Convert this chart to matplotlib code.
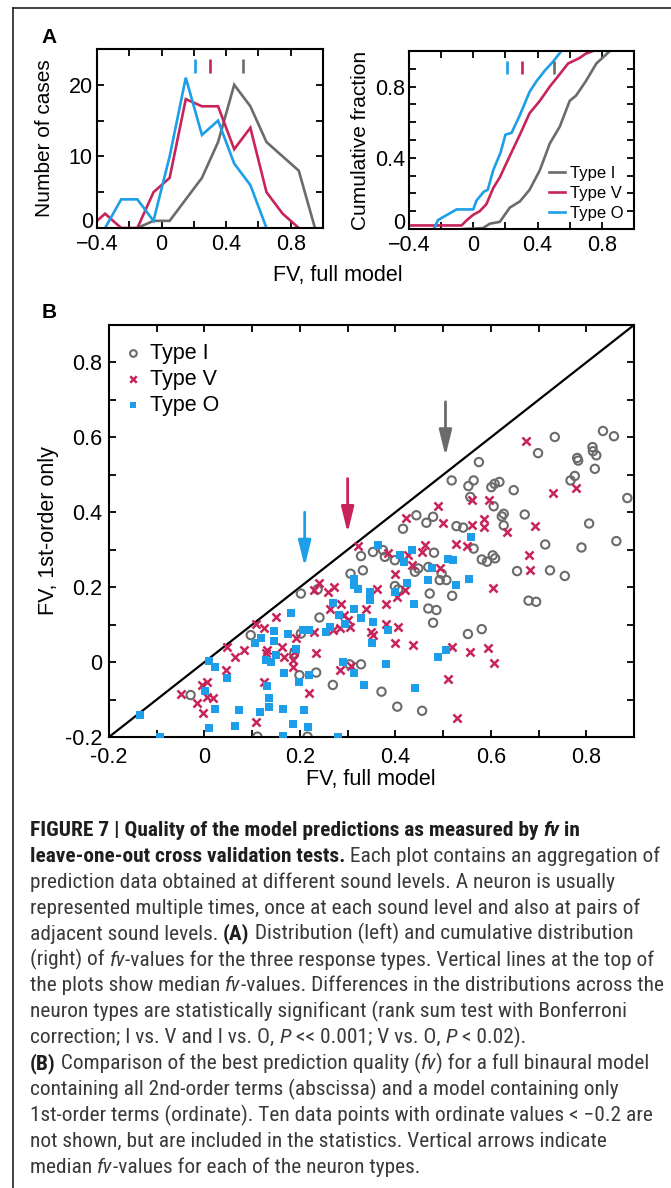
import matplotlib
matplotlib.use('Agg')
import matplotlib.pyplot as plt
from matplotlib import font_manager as fm
from matplotlib.lines import Line2D
import numpy as np

# ---------------------------------------------------------------- data
type_names = ['Type I', 'Type V', 'Type O']
type_colors = ['#6B6B6B', '#C8245A', '#1C9FE8']
medians = [0.505, 0.30, 0.21]          # median fv per type (I, V, O)

# Panel A, left: histogram of fv (bin centres, counts)
hist_I_x = [-0.15, -0.05, 0.05, 0.15, 0.25, 0.35, 0.45, 0.55, 0.65, 0.75, 0.85, 0.95]
hist_I_n = [0, 1, 1, 4, 7, 12, 20, 17, 12, 10, 8, 0]
hist_V_x = [-0.45, -0.35, -0.25, -0.15, -0.05, 0.05, 0.15, 0.25, 0.35, 0.45, 0.55, 0.65, 0.75, 0.85]
hist_V_n = [0, 2, 0, 0, 5, 7, 18, 17, 17, 11, 14, 5, 2, 0]
hist_O_x = [-0.35, -0.25, -0.15, -0.05, 0.05, 0.15, 0.25, 0.35, 0.45, 0.55, 0.65]
hist_O_n = [0, 4, 4, 1, 10, 21, 13, 15, 9, 6, 0]

# Panel A, right: cumulative fraction curves
cdf_I_x = [-0.06, 0.06, 0.103, 0.165, 0.227, 0.29, 0.35, 0.414, 0.476, 0.538, 0.60, 0.64, 0.70, 0.766, 0.85]
cdf_I_y = [0.0, 0.005, 0.03, 0.04, 0.12, 0.155, 0.22, 0.33, 0.48, 0.575, 0.72, 0.75, 0.83, 0.93, 1.0]
cdf_V_x = [-0.4, -0.073, -0.04, 0.0, 0.04, 0.082, 0.124, 0.165, 0.227, 0.29, 0.35, 0.414, 0.476, 0.538, 0.59, 0.66, 0.70, 0.745]
cdf_V_y = [0.02, 0.02, 0.05, 0.08, 0.10, 0.14, 0.23, 0.29, 0.41, 0.53, 0.65, 0.72, 0.80, 0.87, 0.93, 0.96, 0.985, 1.0]
cdf_O_x = [-0.245, -0.22, -0.104, 0.0, 0.02, 0.066, 0.09, 0.124, 0.17, 0.20, 0.238, 0.29, 0.35, 0.393, 0.445, 0.496, 0.548]
cdf_O_y = [0.0, 0.05, 0.11, 0.11, 0.16, 0.21, 0.22, 0.33, 0.43, 0.53, 0.54, 0.64, 0.77, 0.83, 0.89, 0.94, 1.0]

# Panel B: fv full model (x) vs fv 1st-order only (y)
I_x = [-0.029, 0.097, 0.111, 0.216, 0.202, 0.237, 0.241, 0.306, 0.328, 0.332, 0.353, 0.374, 0.378,
       0.399, 0.416, 0.444, 0.465, 0.479, 0.481, 0.441, 0.448, 0.469, 0.497, 0.493, 0.507, 0.472,
       0.469, 0.486, 0.479, 0.399, 0.406, 0.202, 0.188, 0.304, 0.328, 0.199, 0.234, 0.269, 0.371,
       0.404, 0.456, 0.734, 0.835, 0.858, 0.699, 0.813, 0.814, 0.821, 0.818, 0.781, 0.783, 0.575,
       0.776, 0.767, 0.886, 0.518, 0.553, 0.564, 0.601, 0.608, 0.618, 0.648, 0.606, 0.557, 0.623,
       0.627, 0.627, 0.671, 0.714, 0.806, 0.790, 0.863, 0.655, 0.724, 0.755, 0.679, 0.695, 0.528,
       0.542, 0.564, 0.581, 0.592, 0.604, 0.609, 0.519, 0.552, 0.581]
I_y = [-0.088, 0.072, -0.199, -0.199, 0.183, 0.194, 0.119, 0.236, 0.283, 0.245, 0.294, 0.299, 0.281,
       0.272, 0.356, 0.392, 0.372, 0.388, 0.292, 0.241, 0.250, 0.254, 0.236, 0.219, 0.219, 0.183,
       0.143, 0.139, 0.105, 0.203, 0.194, 0.076, 0.023, -0.006, -0.006, -0.035, -0.028, -0.061, -0.079,
       -0.119, -0.130, 0.601, 0.617, 0.603, 0.558, 0.574, 0.563, 0.552, 0.516, 0.545, 0.538, 0.534,
       0.497, 0.485, 0.438, 0.485, 0.470, 0.485, 0.467, 0.476, 0.481, 0.459, 0.416, 0.441, 0.389,
       0.396, 0.365, 0.394, 0.314, 0.370, 0.306, 0.323, 0.243, 0.245, 0.230, 0.164, 0.161, 0.363,
       0.359, 0.303, 0.274, 0.268, 0.285, 0.277, 0.177, 0.075, 0.088]

V_x = [-0.050, -0.015, -0.003, -0.005, 0.006, 0.006, 0.018, 0.048, 0.046, 0.065, 0.083,
       0.107, 0.125, 0.150, 0.163, 0.167, 0.185, 0.185, 0.188, 0.192, 0.132, 0.128, 0.125, 0.220,
       0.234, 0.241, 0.230, 0.258, 0.272, 0.262, 0.286, 0.293, 0.300, 0.304, 0.283, 0.269, 0.283,
       0.321, 0.349, 0.353, 0.381, 0.381, 0.362, 0.385, 0.399, 0.406, 0.399, 0.420, 0.404, 0.427,
       0.434, 0.437, 0.455, 0.462, 0.490, 0.500, 0.423, 0.493, 0.511, 0.107, 0.307, 0.230, 0.339,
       0.674, 0.730, 0.779, 0.560, 0.597, 0.585, 0.585, 0.560, 0.634, 0.693, 0.526, 0.550, 0.679,
       0.683, 0.604, 0.518, 0.557, 0.595, 0.607, 0.530]
V_y = [-0.084, -0.109, -0.137, -0.061, -0.053, -0.093, -0.097, 0.041, -0.021, 0.014, 0.032,
       0.103, 0.090, 0.121, 0.041, 0.014, 0.005, -0.012, 0.028, 0.063, 0.032, 0.023, -0.052, -0.082,
       0.023, 0.212, 0.192, 0.188, 0.201, 0.143, 0.156, 0.125, 0.112, 0.094, 0.090, 0.085, -0.021,
       0.310, 0.081, 0.072, 0.103, 0.156, 0.194, 0.290, 0.236, 0.094, 0.050, 0.192, 0.174, 0.285,
       0.259, 0.045, 0.294, 0.312, 0.416, 0.372, 0.386, 0.250, -0.044, -0.159, -0.010, 0.081, 0.143,
       0.589, 0.452, 0.465, 0.432, 0.432, 0.383, 0.361, 0.365, 0.347, 0.363, 0.316, 0.309, 0.287,
       0.245, 0.198, 0.041, 0.027, 0.038, -0.002, -0.148]

O_x = [-0.135, -0.093, 0.009, 0.023, 0.002, 0.048, 0.023, 0.009, 0.063, 0.072, 0.164, 0.279,
       0.363, 0.409, 0.418, 0.434, 0.511, 0.476, 0.469, 0.425, 0.400, 0.346, 0.346, 0.314, 0.314,
       0.321, 0.269, 0.281, 0.313, 0.328, 0.295, 0.353, 0.439, 0.385, 0.351, 0.264, 0.255, 0.220,
       0.206, 0.181, 0.146, 0.175, 0.105, 0.118, 0.146, 0.192, 0.149, 0.128, 0.139, 0.290, 0.313,
       0.381, 0.167, 0.199, 0.220, 0.130, 0.335, 0.441, 0.490, 0.507, 0.135, 0.135, 0.116, 0.165,
       0.209, 0.185, 0.216, 0.559, 0.521, 0.554, 0.528]
O_y = [-0.140, -0.200, 0.003, -0.012, -0.077, -0.042, -0.126, -0.177, -0.171, -0.128, -0.197, -0.200,
       0.312, 0.287, 0.268, 0.299, 0.274, 0.250, 0.219, 0.210, 0.188, 0.188, 0.165, 0.223, 0.205,
       0.194, 0.159, 0.127, 0.143, 0.119, 0.103, 0.108, 0.155, 0.085, 0.050, 0.094, 0.081, 0.085,
       0.087, 0.130, 0.083, 0.076, 0.050, 0.063, 0.057, 0.036, 0.019, 0.005, 0.001, 0.001, -0.028,
       -0.006, -0.030, -0.052, -0.035, -0.063, -0.061, -0.070, 0.014, 0.032, -0.097, -0.119, -0.132, -0.126,
       -0.128, -0.165, -0.174, 0.334, 0.272, 0.223, 0.205]

# Caption: lines of (text, style) segments; style r=regular, b=bold, i=italic, bi=bold italic
caption = [
    [("FIGURE 7 | Quality of the model predictions as measured by ", 'b'), ("fv", 'bi'), (" in", 'b')],
    [("leave-one-out cross validation tests.", 'b'), (" Each plot contains an aggregation of", 'r')],
    [("prediction data obtained at different sound levels. A neuron is usually", 'r')],
    [("represented multiple times, once at each sound level and also at pairs of", 'r')],
    [("adjacent sound levels. ", 'r'), ("(A)", 'b'), (" Distribution (left) and cumulative distribution", 'r')],
    [("(right) of ", 'r'), ("fv", 'i'), ("-values for the three response types. Vertical lines at the top of", 'r')],
    [("the plots show median ", 'r'), ("fv", 'i'), ("-values. Differences in the distributions across the", 'r')],
    [("neuron types are statistically significant (rank sum test with Bonferroni", 'r')],
    [("correction; I vs. V and I vs. O, ", 'r'), ("P", 'i'), (" << 0.001; V vs. O, ", 'r'), ("P", 'i'), (" < 0.02).", 'r')],
    [("(B)", 'b'), (" Comparison of the best prediction quality (", 'r'), ("fv", 'i'), (") for a full binaural model", 'r')],
    [("containing all 2nd-order terms (abscissa) and a model containing only", 'r')],
    [("1st-order terms (ordinate). Ten data points with ordinate values < \u22120.2 are", 'r')],
    [("not shown, but are included in the statistics. Vertical arrows indicate", 'r')],
    [("median ", 'r'), ("fv", 'i'), ("-values for each of the neuron types.", 'r')],
]

# ---------------------------------------------------------------- setup
W, H = 671, 1188
FONT = 'Liberation Sans'
plt.rcParams['font.family'] = [FONT, 'DejaVu Sans']
plt.rcParams['axes.linewidth'] = 1.5
TS = 15.5   # tick / axis label size

fig = plt.figure(figsize=(W / 100, H / 100), dpi=100)


def ax_px(x0, y0, x1, y1):
    return fig.add_axes([x0 / W, 1 - y1 / H, (x1 - x0) / W, (y1 - y0) / H])


def style(ax, size, xpad, ypad):
    ax.tick_params(direction='in', top=True, right=True, length=5, width=1.3,
                   labelsize=size, colors='black')
    ax.tick_params(axis='x', pad=xpad)
    ax.tick_params(axis='y', pad=ypad)


# frame lines of the page
fig.add_artist(Line2D([13 / W, 1], [1 - 8 / H, 1 - 8 / H], transform=fig.transFigure, color='#222222', lw=1.2))
fig.add_artist(Line2D([13 / W, 13 / W], [1 - 8 / H, 0], transform=fig.transFigure, color='#222222', lw=1.2))

# ---------------------------------------------------------------- Panel A left
axA1 = ax_px(97, 49, 323, 228)
for xs, ns, c in zip([hist_I_x, hist_V_x, hist_O_x], [hist_I_n, hist_V_n, hist_O_n], type_colors):
    axA1.plot(xs, ns, color=c, lw=1.9, solid_joinstyle='miter')
axA1.vlines(medians, 21.7, 23.6, colors=type_colors, lw=1.9)
axA1.set_xlim(-0.4, 1.0)
axA1.set_ylim(0, 25)
axA1.set_xticks(np.arange(-0.4, 1.01, 0.2))
axA1.set_xticklabels(['\u22120.4', '', '0', '', '0.4', '', '0.8', ''])
axA1.set_yticks([0, 5, 10, 15, 20, 25])
axA1.set_yticklabels(['0', '', '10', '', '20', ''])
style(axA1, TS, 4.5, 3.0)
axA1.get_yticklabels()[0].set_va('baseline')

# ---------------------------------------------------------------- Panel A right
axA2 = ax_px(409, 51, 634, 229)
handles = []
for xs, ys, c, n in zip([cdf_I_x, cdf_V_x, cdf_O_x], [cdf_I_y, cdf_V_y, cdf_O_y], type_colors, type_names):
    h, = axA2.plot(xs, ys, color=c, lw=1.9, label=n)
    handles.append(h)
axA2.vlines(medians, 0.873, 0.944, colors=type_colors, lw=1.9)
axA2.set_xlim(-0.4, 1.0)
axA2.set_ylim(0, 1.0)
axA2.set_xticks(np.arange(-0.4, 1.01, 0.2))
axA2.set_xticklabels(['\u22120.4', '', '0', '', '0.4', '', '0.8', ''])
axA2.set_yticks(np.arange(0, 1.01, 0.1))
axA2.set_yticklabels(['0', '', '', '', '0.4', '', '', '', '0.8', '', ''])
style(axA2, TS, 4.5, 3.0)
axA2.get_yticklabels()[0].set_va('baseline')
axA2.legend(handles=handles, loc='lower right', bbox_to_anchor=(0.955, 0.045), frameon=False,
            fontsize=12, handlelength=1.0, handletextpad=0.3, labelspacing=0.3,
            borderpad=0, borderaxespad=0)

fig.text(338 / W, 1 - 276 / H, 'FV, full model', ha='center', va='center', fontsize=TS)
fig.text(45 / W, 1 - 138 / H, 'Number of cases', rotation=90, ha='center', va='center', fontsize=15)
fig.text(361 / W, 1 - 140 / H, 'Cumulative fraction', rotation=90, ha='center', va='center', fontsize=15)
fig.text(41 / W, 1 - 43 / H, 'A', ha='left', va='baseline', fontsize=15, fontweight='bold')

# ---------------------------------------------------------------- Panel B
axB = ax_px(109, 325, 634, 737)
axB.axline((0, 0), slope=1, color='black', lw=1.6, zorder=1)
axB.scatter(I_x, I_y, s=36, marker='o', facecolors='none', edgecolors=type_colors[0],
            linewidths=1.5, label=type_names[0], zorder=2)
axB.scatter(V_x, V_y, s=34, marker='x', color=type_colors[1], linewidths=1.8,
            label=type_names[1], zorder=3)
axB.scatter(O_x, O_y, s=36, marker='s', color=type_colors[2], linewidths=0,
            label=type_names[2], zorder=4)
for m, c in zip(medians, type_colors):
    axB.annotate('', xy=(m, m + 0.045), xytext=(m, m + 0.19),
                 arrowprops=dict(arrowstyle='-|>,head_length=0.65,head_width=0.16', color=c,
                                 lw=2.0, shrinkA=0, shrinkB=0, mutation_scale=24), zorder=5)
axB.set_xlim(-0.2, 0.9)
axB.set_ylim(-0.2, 0.9)
ticks = np.arange(-0.2, 0.91, 0.1)
labs = ['-0.2', '', '0', '', '0.2', '', '0.4', '', '0.6', '', '0.8', '']
axB.set_xticks(ticks)
axB.set_xticklabels(labs)
axB.set_yticks(ticks)
axB.set_yticklabels(labs)
style(axB, TS, 7.0, 5.0)
axB.legend(loc='upper left', bbox_to_anchor=(0.026, 0.956), frameon=False, fontsize=TS,
           handlelength=1.0, handletextpad=0.25, labelspacing=0.22, borderpad=0, borderaxespad=0,
           scatterpoints=1, markerscale=0.8)

fig.text(371 / W, 1 - 779 / H, 'FV, full model', ha='center', va='center', fontsize=TS)
fig.text(49 / W, 1 - 531 / H, 'FV, 1st-order only', rotation=90, ha='center', va='center', fontsize=TS)
fig.text(42 / W, 1 - 318 / H, 'B', ha='left', va='baseline', fontsize=15, fontweight='bold')

# ---------------------------------------------------------------- caption
cap_family = FONT
cap_stretch = 'normal'
for fam, st in [('Roboto Condensed', 'normal'), ('Liberation Sans Narrow', 'normal'),
                ('Roboto', 'condensed'), ('DejaVu Sans', 'condensed')]:
    try:
        p = fm.findfont(fm.FontProperties(family=fam, stretch=st), fallback_to_default=False)
    except Exception:
        continue
    if 'ondensed' in p or 'arrow' in p:
        cap_family, cap_stretch = fam, st
        break

renderer = fig.canvas.get_renderer()
STY = {'r': ('normal', 'normal'), 'b': ('bold', 'normal'),
       'i': ('normal', 'italic'), 'bi': ('bold', 'italic')}


def seg_width(s, st, size):
    w_, sl_ = STY[st]
    t1 = fig.text(0, 0, s + '|', fontsize=size, family=cap_family, stretch=cap_stretch,
                  fontweight=w_, fontstyle=sl_)
    t2 = fig.text(0, 0, '|', fontsize=size, family=cap_family, stretch=cap_stretch,
                  fontweight=w_, fontstyle=sl_)
    w = t1.get_window_extent(renderer).width - t2.get_window_extent(renderer).width
    t1.remove()
    t2.remove()
    return w


# font size chosen so that the second caption line spans ~628 px
ref_w = sum(seg_width(s, st, 10) for s, st in caption[1])
cap_size = 10 * 628 / ref_w

x0, base0, step = 30, 836, 25.9
for k, line in enumerate(caption):
    x = x0
    yb = base0 + k * step
    for s, st in line:
        w_, sl_ = STY[st]
        col = '#1e1e1e' if 'b' in st else '#3a3a3a'
        fig.text(x / W, 1 - yb / H, s, fontsize=cap_size, family=cap_family, stretch=cap_stretch,
                 fontweight=w_, fontstyle=sl_, va='baseline', ha='left', color=col)
        x += seg_width(s, st, cap_size)

fig.savefig('out.png', dpi=100)
